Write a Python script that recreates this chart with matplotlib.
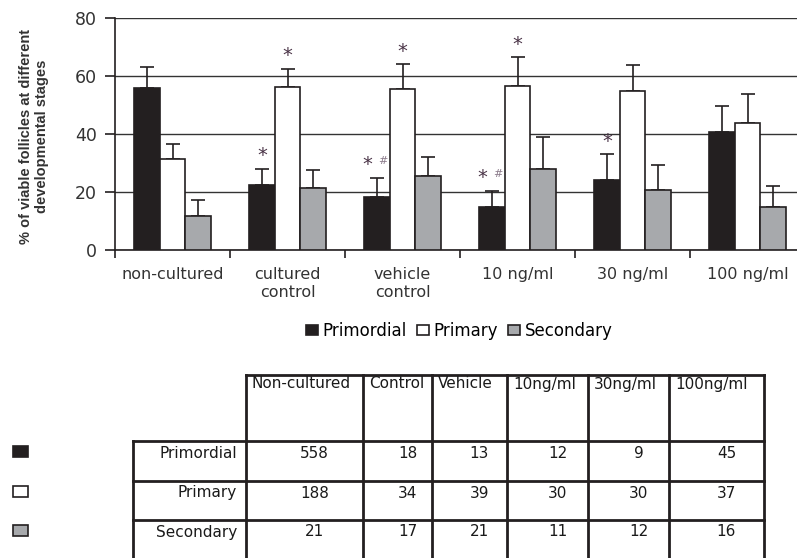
import numpy as np
import matplotlib
matplotlib.use("Agg")
import matplotlib.pyplot as plt
from matplotlib.patches import Rectangle

plt.rcParams['font.family'] = ['DejaVu Sans']

# % of viable follicles (means, upper error)
groups = ['non-cultured', 'cultured\ncontrol', 'vehicle\ncontrol', '10 ng/ml', '30 ng/ml', '100 ng/ml']
stages = ['Primordial', 'Primary', 'Secondary']
primordial = [55.8, 22.3, 18.3, 15.0, 24.2, 40.9]
primordial_err = [7.3, 5.8, 6.6, 5.4, 8.9, 8.9]
primary = [31.4, 56.2, 55.5, 56.7, 55.0, 44.0]
primary_err = [5.2, 6.4, 8.6, 9.9, 9.0, 10.0]
secondary = [11.9, 21.3, 25.4, 28.1, 20.8, 15.0]
secondary_err = [5.5, 6.3, 6.8, 10.9, 8.7, 7.2]

# significance marks: (group, stage, has '#')
marks = [(1, 0, False), (1, 1, False), (2, 0, True), (2, 1, False),
         (3, 0, True), (3, 1, False), (4, 0, False)]

# follicle counts table
table_cols = ['Non-cultured', 'Control', 'Vehicle', '10ng/ml', '30ng/ml', '100ng/ml']
count_primordial = [558, 18, 13, 12, 9, 45]
count_primary = [188, 34, 39, 30, 30, 37]
count_secondary = [21, 17, 21, 11, 12, 16]

W, H = 797, 558
ink = '#231f20'
colors = [ink, 'white', '#a7a9ac']

fig = plt.figure(figsize=(W / 100, H / 100), dpi=100)

# ---- table area (pixel coordinates of the page) ----
tab = fig.add_axes([0, 0, 1, 1])
tab.set_xlim(0, W)
tab.set_ylim(H, 0)
tab.axis('off')

col_w = [113, 117, 69, 75, 81, 81, 95]
col_x = 133 + np.concatenate([[0], np.cumsum(col_w)])
row_y = [375, 441, 481, 520, 560]
lw = 2
for i, xe in enumerate(col_x):
    y0 = row_y[1] if i == 0 else row_y[0]
    tab.plot([xe, xe], [y0, row_y[-1]], color=ink, lw=lw, solid_capstyle='projecting')
tab.plot([col_x[1], col_x[-1]], [row_y[0], row_y[0]], color=ink, lw=lw, solid_capstyle='projecting')
for ye in row_y[1:4]:
    tab.plot([col_x[0], col_x[-1]], [ye, ye], color=ink, lw=lw)

for j, name in enumerate(table_cols):
    tab.text(col_x[j + 1] + 6, row_y[0] + 9, name, ha='left', va='center',
             fontsize=11, color='#1a1a1a')

counts = [count_primordial, count_primary, count_secondary]
for r, (name, vals) in enumerate(zip(stages, counts)):
    ty = row_y[r + 1] + 12
    tab.text(col_x[1] - 9, ty, name, ha='right', va='center', fontsize=11, color='#1a1a1a')
    for j, v in enumerate(vals):
        cx = (col_x[j + 1] + col_x[j + 2]) / 2 + 10
        tab.text(cx, ty, str(v), ha='center', va='center', fontsize=11, color='#1a1a1a')
    # key squares at the far left
    tab.add_patch(Rectangle((13, ty - 2 - 5.5), 15, 11, facecolor=colors[r],
                            edgecolor=ink, lw=1.2))

# ---- bar chart ----
ax = fig.add_axes([115 / W, 1 - 250 / H, 690 / W, 231.7 / H])
x = np.arange(len(groups))
w = 0.223
series = [primordial, primary, secondary]
errs = [primordial_err, primary_err, secondary_err]
for i in range(3):
    ax.bar(x + (i - 1) * w, series[i], w, color=colors[i], edgecolor=ink, linewidth=1.2,
           label=stages[i], zorder=3,
           yerr=[np.zeros(len(groups)), errs[i]], capsize=5,
           error_kw=dict(ecolor=ink, elinewidth=1.2, capthick=1.2, zorder=2))

for g, s, hashmark in marks:
    top = series[s][g] + errs[s][g] + 4.5
    bx = x[g] + (s - 1) * w
    if hashmark:
        ax.text(bx - 0.08, top, '*', ha='center', va='center', fontsize=14, color='#4b3548')
        ax.text(bx + 0.05, top + 1.2, '#', ha='center', va='center', fontsize=8, color='#8a7a8a')
    else:
        ax.text(bx, top, '*', ha='center', va='center', fontsize=14, color='#4b3548')

ax.set_xlim(-0.5, 5.5)
ax.set_ylim(0, 80)
ax.set_yticks([0, 20, 40, 60, 80])
ax.yaxis.grid(True, color='#333333', lw=1)
ax.set_axisbelow(True)
for sp in ['top', 'right']:
    ax.spines[sp].set_visible(False)
for sp in ['left', 'bottom']:
    ax.spines[sp].set_color(ink)
    ax.spines[sp].set_linewidth(1.2)
ax.set_xticks(x)
ax.set_xticklabels(groups, fontsize=11.5, color='#333', linespacing=1.25)
ax.set_xticks(np.arange(-0.5, 5, 1), minor=True)
ax.tick_params(axis='x', which='major', length=0, pad=12)
ax.tick_params(axis='x', which='minor', length=6, width=1.2, color=ink, direction='out')
ax.tick_params(axis='y', length=7, width=1.2, color=ink, labelsize=12.5, labelcolor='#333', pad=6)

fig.text(34 / W, 1 - 136 / H, '% of viable follicles at different\ndevelopmental stages',
         rotation=90, ha='center', va='center', fontsize=10.5, fontweight='bold',
         family='Liberation Sans', color='#333', multialignment='center')

fig.legend(*ax.get_legend_handles_labels(), loc='center', bbox_to_anchor=(459 / W, 1 - 331 / H),
           ncol=3, frameon=False, fontsize=12, handlelength=0.75, handleheight=0.55,
           handletextpad=0.25, columnspacing=0.6)

fig.savefig('out.png', dpi=100)
